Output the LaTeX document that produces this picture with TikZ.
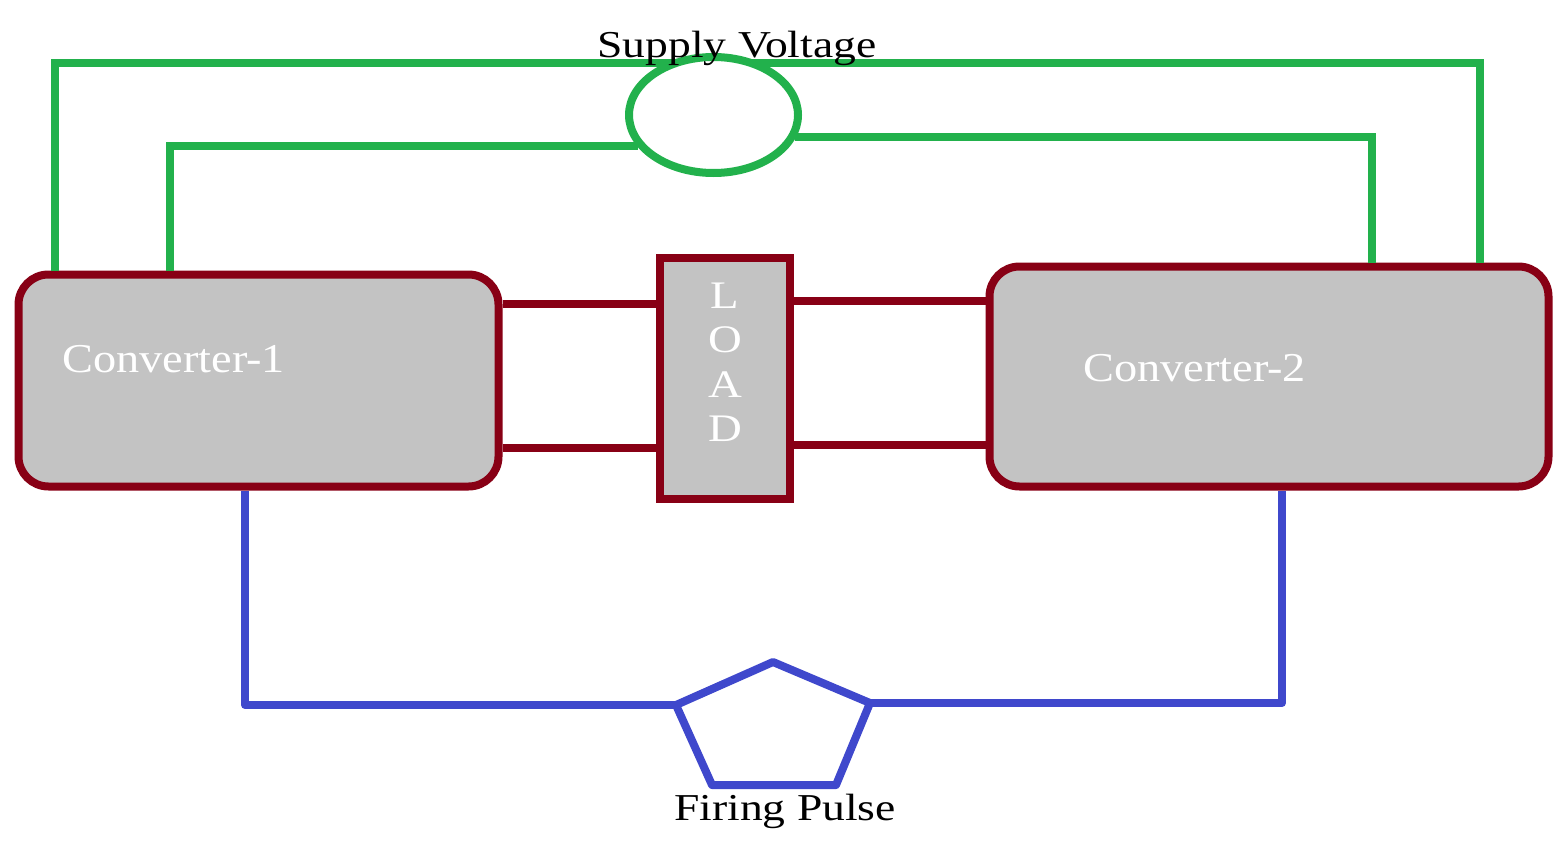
\documentclass[tikz,border=0pt]{standalone}
\usepackage{fontspec}
\setmainfont{Liberation Serif}
\usetikzlibrary{shapes.geometric}
\definecolor{gw}{RGB}{34,177,76}
\definecolor{rw}{RGB}{136,0,21}
\definecolor{bw}{RGB}{63,72,204}
\definecolor{boxgray}{RGB}{195,195,195}
\tikzset{
  conv/.style={draw=rw,fill=boxgray,line width=8pt,rounded corners=30pt,rectangle,inner sep=0pt},
  loadbox/.style={draw=rw,fill=boxgray,line width=8pt,rectangle,inner sep=0pt},
  gline/.style={draw=gw,line width=8pt},
  rline/.style={draw=rw,line width=8pt},
  bline/.style={draw=bw,line width=8pt,line join=round},
  lbl/.style={inner sep=0pt,anchor=base,font=\fontsize{38}{40}\selectfont},
  clbl/.style={inner sep=0pt,anchor=base west,text=white,font=\fontsize{41}{44}\selectfont},
  llbl/.style={inner sep=0pt,anchor=base,text=white,font=\fontsize{39}{40}\selectfont}
}
\begin{document}
\begin{tikzpicture}[x=1pt,y=-1pt]
\useasboundingbox (0,0) rectangle (1554,851);
% boxes
\node[conv,minimum width=480pt,minimum height=212pt] (c1) at (258.5,380.5) {};
\node[conv,minimum width=559pt,minimum height=220pt] (c2) at (1269,376.5) {};
\node[loadbox,minimum width=130pt,minimum height=241pt] (load) at (724.5,378) {};
\node[draw=gw,line width=8pt,ellipse,inner sep=0pt,minimum width=169pt,minimum height=116pt] (sv) at (713.5,115) {};
% red wires
\coordinate (rA) at (0,304);
\coordinate (rB) at (0,448);
\coordinate (rC) at (0,301);
\coordinate (rD) at (0,445);
\draw[rline] (c1.east |- rA) -- (load.west |- rA);
\draw[rline] (c1.east |- rB) -- (load.west |- rB);
\draw[rline] (load.east |- rC) -- (c2.west |- rC);
\draw[rline] (load.east |- rD) -- (c2.west |- rD);
% green wires
\coordinate (gOL) at (55,63);
\coordinate (gIL) at (170,146);
\coordinate (gIR) at (1372,137);
\coordinate (gOR) at (1480,63);
\draw[gline] (c1.north -| gOL) -- (gOL) -- (gOL -| sv.126);
\draw[gline] (sv.55 |- gOR) -- (gOR) -- (c2.north -| gOR);
\draw[gline] (c1.north -| gIL) -- (gIL) -- (gIL -| sv.203.5);
\draw[gline] (sv.344.3 |- gIR) -- (gIR) -- (c2.north -| gIR);
% firing pulse pentagon
\coordinate (pT) at (773,662);
\coordinate (pL) at (676,705);
\coordinate (pR) at (870,703);
\coordinate (pBL) at (712,785);
\coordinate (pBR) at (836,785);
\draw[bline] (pT) -- (pR) -- (pBR) -- (pBL) -- (pL) -- cycle;
\coordinate (bL) at (245,705);
\coordinate (bR) at (1282,703);
\draw[bline] (c1.south -| bL) -- (bL) -- (pL);
\draw[bline] (pR) -- (bR) -- (c2.south -| bR);
% labels
\node[clbl] (t1) at (62,372) {\scalebox{1.13}[1]{Converter-1}};
\node[clbl] (t2) at (1083,381) {\scalebox{1.13}[1]{Converter-2}};
\node[llbl] (lL) at (725,308) {\scalebox{1.2}[1]{L}};
\node[llbl] (lO) at (725,352) {\scalebox{1.2}[1]{O}};
\node[llbl] (lA) at (725,397) {\scalebox{1.2}[1]{A}};
\node[llbl] (lD) at (725,441) {\scalebox{1.2}[1]{D}};
\node[lbl] (svt) at (737,57) {\scalebox{1.2}[1]{Supply Voltage}};
\node[lbl] (fpt) at (785,820) {\scalebox{1.2}[1]{Firing Pulse}};
\end{tikzpicture}
\end{document}
